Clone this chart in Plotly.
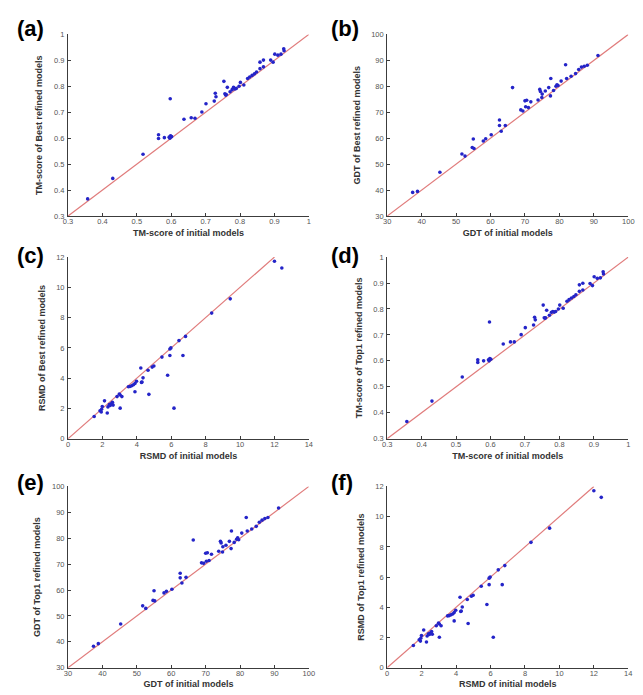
import plotly.graph_objects as go

# ---------------- data ----------------
# (a) TM-score: initial vs best refined
a_x = [0.357, 0.430, 0.518, 0.563, 0.563, 0.580, 0.594, 0.598, 0.601, 0.596, 0.597, 0.637, 0.658, 0.669, 0.689, 0.701,
       0.725, 0.728, 0.730, 0.753, 0.756, 0.758, 0.760, 0.763, 0.771, 0.777, 0.781, 0.785, 0.789, 0.797, 0.801, 0.811,
       0.822, 0.828, 0.835, 0.842, 0.848, 0.858, 0.858, 0.868, 0.868, 0.889, 0.896, 0.901, 0.910, 0.919, 0.927, 0.928]
a_y = [0.366, 0.445, 0.538, 0.613, 0.599, 0.602, 0.604, 0.609, 0.606, 0.600, 0.752, 0.673, 0.679, 0.677, 0.701, 0.733,
       0.743, 0.773, 0.760, 0.819, 0.771, 0.766, 0.768, 0.796, 0.779, 0.787, 0.796, 0.790, 0.792, 0.800, 0.815, 0.805,
       0.830, 0.836, 0.842, 0.848, 0.855, 0.868, 0.893, 0.901, 0.875, 0.901, 0.893, 0.924, 0.920, 0.924, 0.945, 0.937]

# (b) GDT: initial vs best refined
b_x = [37.4, 38.8, 45.3, 51.7, 52.6, 55.0, 54.7, 55.2, 57.9, 58.6, 60.2, 62.6, 62.6, 63.1, 64.3, 66.4, 68.8, 69.4,
       70.0, 70.5, 70.2, 71.0, 71.7, 73.8, 74.3, 74.5, 75.0, 74.9, 75.9, 76.9, 77.4, 77.5, 78.3, 79.0, 79.3, 79.6,
       80.5, 81.8, 82.1, 83.4, 84.7, 85.6, 86.4, 87.2, 88.1, 91.2]
b_y = [39.1, 39.5, 46.9, 53.9, 53.1, 59.7, 56.4, 56.0, 58.9, 59.8, 61.3, 67.0, 64.9, 62.7, 64.9, 79.5, 70.9, 70.5,
       74.4, 74.6, 72.1, 71.8, 74.0, 74.7, 78.8, 78.0, 77.0, 75.7, 78.2, 79.5, 76.3, 83.0, 78.4, 80.0, 80.6, 80.3,
       82.0, 88.3, 83.0, 83.9, 84.9, 86.5, 87.4, 87.7, 88.1, 91.9]

# (c) RMSD: initial vs best refined
c_x = [1.52, 1.86, 1.93, 1.99, 2.12, 2.28, 2.32, 2.40, 2.45, 2.50, 2.55, 2.62, 2.58, 2.85, 3.03, 3.13, 3.03, 3.51,
       3.60, 3.70, 3.80, 3.89, 3.98, 3.89, 4.23, 4.27, 4.30, 4.36, 4.70, 4.65, 4.89, 4.99, 5.46, 5.79, 5.92, 5.92,
       5.98, 6.16, 6.45, 6.68, 6.83, 8.35, 9.43, 12.0, 12.43, 1.95, 2.98]
c_y = [1.47, 1.85, 1.76, 2.13, 2.50, 1.70, 2.10, 2.25, 2.20, 2.30, 2.28, 2.22, 2.40, 2.78, 2.89, 2.78, 2.02, 3.43,
       3.45, 3.50, 3.56, 3.10, 3.80, 3.65, 4.67, 3.72, 3.75, 4.02, 2.93, 4.52, 4.73, 4.80, 5.39, 4.19, 5.50, 5.93,
       6.00, 2.02, 6.48, 5.50, 6.76, 8.30, 9.24, 11.72, 11.28, 1.95, 2.95]

# (d) TM-score: initial vs top1 refined
d_x = a_x
d_y = [0.366, 0.445, 0.538, 0.604, 0.594, 0.600, 0.604, 0.609, 0.606, 0.600, 0.750, 0.665, 0.673, 0.673, 0.701, 0.728,
       0.738, 0.768, 0.758, 0.815, 0.766, 0.764, 0.766, 0.795, 0.776, 0.787, 0.790, 0.788, 0.790, 0.800, 0.815, 0.803,
       0.830, 0.836, 0.842, 0.848, 0.855, 0.868, 0.893, 0.899, 0.873, 0.898, 0.890, 0.924, 0.918, 0.920, 0.943, 0.935]

# (e) GDT: initial vs top1 refined
e_x = b_x
e_y = [38.3, 39.3, 46.9, 53.9, 52.9, 59.7, 56.0, 55.8, 58.9, 59.5, 60.3, 66.5, 64.7, 62.7, 64.9, 79.3, 70.5, 70.3,
       74.2, 74.4, 71.1, 71.4, 73.8, 75.0, 78.8, 78.2, 76.7, 74.7, 77.3, 78.8, 76.0, 82.8, 78.4, 79.6, 80.2, 79.4,
       82.0, 88.0, 82.8, 83.6, 84.6, 86.2, 87.0, 87.6, 88.0, 91.7]

# (f) RMSD: initial vs top1 refined
f_x = c_x
f_y = c_y

# axis settings
tm_ticks = [0.3, 0.4, 0.5, 0.6, 0.7, 0.8, 0.9, 1.0]
tm_labels = ["0.3", "0.4", "0.5", "0.6", "0.7", "0.8", "0.9", "1"]
gdt_ticks = [30, 40, 50, 60, 70, 80, 90, 100]
rmsd_xticks = [0, 2, 4, 6, 8, 10, 12, 14]
rmsd_yticks = [0, 2, 4, 6, 8, 10, 12]
tm_range = [0.3, 1.0]
gdt_range = [30, 100]
rmsd_xrange = [0, 14]
rmsd_yrange = [0, 12]
rmsd_diag = [0, 12]

panels = [
    dict(lab="(a)", x=a_x, y=a_y, xr=tm_range, yr=tm_range, xt=tm_ticks, xl=tm_labels, yt=tm_ticks, yl=tm_labels,
         diag=tm_range, xtitle="TM-score of initial models", ytitle="TM-score of Best refined models"),
    dict(lab="(b)", x=b_x, y=b_y, xr=gdt_range, yr=gdt_range, xt=gdt_ticks, xl=[str(v) for v in gdt_ticks],
         yt=gdt_ticks, yl=[str(v) for v in gdt_ticks], diag=gdt_range,
         xtitle="GDT of initial models", ytitle="GDT of Best refined models"),
    dict(lab="(c)", x=c_x, y=c_y, xr=rmsd_xrange, yr=rmsd_yrange, xt=rmsd_xticks, xl=[str(v) for v in rmsd_xticks],
         yt=rmsd_yticks, yl=[str(v) for v in rmsd_yticks], diag=rmsd_diag,
         xtitle="RSMD of initial models", ytitle="RSMD of Best refined models"),
    dict(lab="(d)", x=d_x, y=d_y, xr=tm_range, yr=tm_range, xt=tm_ticks, xl=tm_labels, yt=tm_ticks, yl=tm_labels,
         diag=tm_range, xtitle="TM-score of initial models", ytitle="TM-score of Top1 refined models"),
    dict(lab="(e)", x=e_x, y=e_y, xr=gdt_range, yr=gdt_range, xt=gdt_ticks, xl=[str(v) for v in gdt_ticks],
         yt=gdt_ticks, yl=[str(v) for v in gdt_ticks], diag=gdt_range,
         xtitle="GDT of initial models", ytitle="GDT of Top1 refined models"),
    dict(lab="(f)", x=f_x, y=f_y, xr=rmsd_xrange, yr=rmsd_yrange, xt=rmsd_xticks, xl=[str(v) for v in rmsd_xticks],
         yt=rmsd_yticks, yl=[str(v) for v in rmsd_yticks], diag=rmsd_diag,
         xtitle="RSMD of initial models", ytitle="RSMD of Top1 refined models"),
]

W, H = 643, 695
col_x = [(56, 301), (380.7, 626)]
row_y = [(22.7, 206.7), (248.3, 432.3), (480.7, 664.3)]
# panel order (a) (b) / (c) (d) / (e) (f)
layout_pos = [(0, 0), (0, 1), (1, 0), (1, 1), (2, 0), (2, 1)]
label_pos = [(2, 2), (322, 2), (2, 232), (322, 232), (2, 462), (322, 462)]

fig = go.Figure()
FONT = "Liberation Sans, Arial, sans-serif"
axis_common = dict(showline=True, linecolor="#3c3c3c", linewidth=1, showgrid=False, zeroline=False,
                   ticks="inside", ticklen=3, tickcolor="#3c3c3c", mirror=False,
                   tickfont=dict(family=FONT, size=7.5, color="#555555"))

for i, p in enumerate(panels):
    r, c = layout_pos[i]
    x0, x1 = col_x[c]
    y0, y1 = row_y[r]
    n = i + 1
    xa = "x" if n == 1 else f"x{n}"
    ya = "y" if n == 1 else f"y{n}"
    fig.add_trace(go.Scatter(x=p["diag"], y=p["diag"], mode="lines", xaxis=xa, yaxis=ya,
                             line=dict(color="#e07b7b", width=1.2), showlegend=False, hoverinfo="skip"))
    fig.add_trace(go.Scatter(x=p["x"], y=p["y"], mode="markers", xaxis=xa, yaxis=ya, cliponaxis=False,
                             marker=dict(color="#2424c8", size=3.6, line=dict(width=0)), showlegend=False))
    xkey = "xaxis" if n == 1 else f"xaxis{n}"
    ykey = "yaxis" if n == 1 else f"yaxis{n}"
    fig.update_layout(**{
        xkey: dict(domain=[x0 / W, x1 / W], range=p["xr"], anchor=ya, tickvals=p["xt"], ticktext=p["xl"],
                   ticklabelstandoff=-2,
                   title=dict(text=f"<b>{p['xtitle']}</b>", standoff=4,
                              font=dict(family=FONT, size=9, color="#333333")), **axis_common),
        ykey: dict(domain=[1 - y1 / H, 1 - y0 / H], range=p["yr"], anchor=xa, tickvals=p["yt"], ticktext=p["yl"],
                   ticklabelstandoff=1,
                   title=dict(text=f"<b>{p['ytitle']}</b>", standoff=9,
                              font=dict(family=FONT, size=9, color="#333333")), **axis_common),
    })
    lx, ly = label_pos[i]
    fig.add_annotation(text=f"<b>{p['lab']}</b>", x=lx / W, y=1 - ly / H, xref="paper", yref="paper",
                       xanchor="left", yanchor="top", showarrow=False,
                       font=dict(family=FONT, size=22, color="#000000"))

fig.update_layout(width=W, height=H, margin=dict(l=0, r=0, t=0, b=0),
                  paper_bgcolor="white", plot_bgcolor="white")
fig.write_html("out.html")
